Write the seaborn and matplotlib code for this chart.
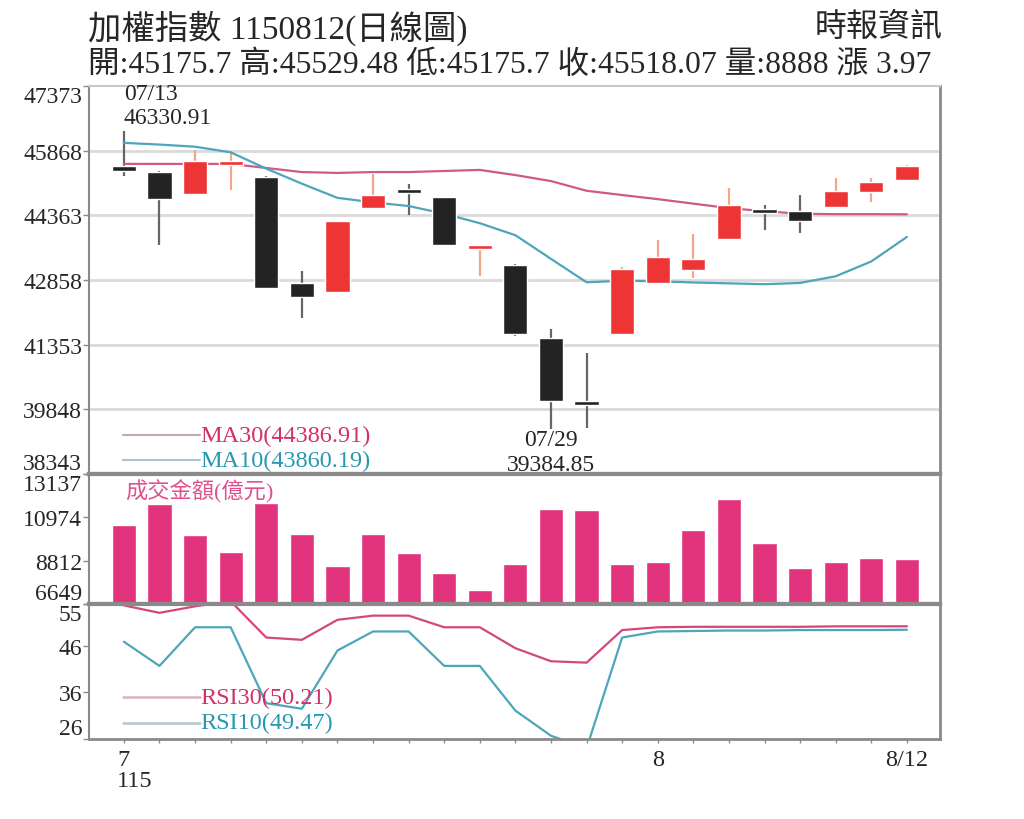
import numpy as np
import pandas as pd
import matplotlib
matplotlib.use("Agg")
import matplotlib.pyplot as plt
import seaborn as sns

# --- data ---
dates = ["07/13", "07/14", "07/15", "07/16", "07/17", "07/20", "07/21", "07/22",
         "07/23", "07/24", "07/27", "07/28", "07/29", "07/30", "07/31", "08/03",
         "08/04", "08/05", "08/06", "08/07", "08/10", "08/11", "08/12"]
opens = [45510, 45371, 44858, 45527, 45254, 42798, 42588, 44531, 44910, 44781,
         43582, 43208, 41498, 40052, 41608, 42781, 43092, 43815, 44484, 44468,
         44548, 44897, 45175.7]
highs = [46330.91, 45390, 45891, 45838, 45270, 43078, 44240, 45324, 45091, 44800,
         43650, 43220, 41715, 41164, 43170, 43792, 43925, 44998, 44608, 44842,
         45231, 45231, 45529.48]
lows = [45280, 43661, 44850, 44958, 42660, 41981, 42570, 44520, 44361, 43640,
        42961, 41561, 39384.85, 39420, 41600, 42770, 42898, 43800, 44025, 43948,
        44540, 44672, 45175.7]
closes = [45400, 44748, 45635, 45621, 42681, 42455, 44235, 44827, 44880, 43661,
          43638, 41608, 40035, 39960, 43115, 43388, 43358, 44608, 44420, 44235,
          44935, 45131, 45518.07]
ma30 = [45560, 45560, 45560, 45560, 45465, 45370, 45350, 45370, 45370, 45395,
        45420, 45300, 45160, 44935, 44835, 44740, 44635, 44530, 44460, 44400,
        44390, 44390, 44386.91]
ma10 = [46050, 46010, 45960, 45830, 45450, 45100, 44770, 44665, 44580, 44400,
        44180, 43900, 43350, 42805, 42840, 42830, 42800, 42780, 42760, 42790,
        42945, 43290, 43860.19]
volume = [10575, 11649, 10080, 9223, 11680, 10129, 8545, 10129, 9173, 8218,
          7357, 8644, 11401, 11317, 8644, 8728, 10361, 11896, 9669, 8431,
          8728, 8961, 8891]
rsi30 = [54.7, 53.1, 54.5, 55.6, 47.8, 47.3, 51.6, 52.5, 52.5, 50.0, 50.0, 45.5,
         42.7, 42.4, 49.4, 50.0, 50.1, 50.1, 50.1, 50.1, 50.2, 50.2, 50.21]
rsi10 = [46.9, 41.7, 50.0, 50.0, 33.7, 32.5, 45.0, 49.1, 49.1, 41.7, 41.7, 32.1,
         26.7, 24.0, 47.8, 49.1, 49.2, 49.3, 49.3, 49.4, 49.4, 49.4, 49.47]

price_ticks = [38343, 39848, 41353, 42858, 44363, 45868, 47373]
vol_ticks = [6649, 8812, 10974, 13137]
rsi_ticks = [26, 36, 46, 55]
month_labels = {0: "7", 15: "8", 22: "8/12"}
year_label = "115"

title = "加權指數 1150812(日線圖)"
source = "時報資訊"
quote = "開:45175.7 高:45529.48 低:45175.7 收:45518.07 量:8888 漲 3.97"
vol_title = "成交金額(億元)"
ma30_label = "MA30(44386.91)"
ma10_label = "MA10(43860.19)"
rsi30_label = "RSI30(50.21)"
rsi10_label = "RSI10(49.47)"

df = pd.DataFrame({"idx": np.arange(len(dates)), "ma30": ma30, "ma10": ma10,
                   "volume": volume, "rsi30": rsi30, "rsi10": rsi10})

sns.set_style("white")
plt.rcParams["font.family"] = ["Liberation Serif", "Noto Sans CJK TC", "DejaVu Sans"]

RED, BLACK = "#ee3535", "#232323"
RED_WICK, BLACK_WICK = "#f2a68a", "#666666"
PINK_LINE, TEAL_LINE = "#cf5a84", "#4ea5bc"
PINK_TXT, TEAL_TXT = "#d2306a", "#2898b2"
GRAY = "#8a8a8a"

fig = plt.figure(figsize=(10.24, 8.2), dpi=100)
W, H = 1024, 820
left, right = 89, 940


def panel(top, bottom):
    return fig.add_axes([left / W, 1 - bottom / H, (right - left) / W, (bottom - top) / H])


ax_p = panel(87, 475)
ax_v = panel(475, 605)
ax_r = panel(605, 740)
xlim = (-0.98, 22.93)
idx = df["idx"].to_numpy()

# --- price panel ---
o, h, l, c = map(np.asarray, (opens, highs, lows, closes))
up = c >= o
ax_p.vlines(idx, l, h, colors=np.where(up, RED_WICK, BLACK_WICK), lw=1.6, zorder=2)
ax_p.bar(idx, np.maximum(np.abs(c - o), 90), bottom=np.minimum(o, c), width=0.68,
         color=np.where(up, RED, BLACK), zorder=3)
sns.lineplot(data=df, x="idx", y="ma30", ax=ax_p, color=PINK_LINE, lw=1.6, zorder=2)
sns.lineplot(data=df, x="idx", y="ma10", ax=ax_p, color=TEAL_LINE, lw=1.6, zorder=2)
for t in price_ticks[1:-1]:
    ax_p.axhline(t, color="#dadada", lw=2, zorder=0)
ax_p.set_ylim(price_ticks[0], price_ticks[-1])

hi = int(np.argmax(h))
lo = int(np.argmin(l))
ax_p.annotate(f"{dates[hi]}\n{h[hi]:.2f}", xy=(hi, h[hi]), xytext=(0, 2),
              textcoords="offset points", ha="left", va="bottom", fontsize=17,
              linespacing=1.2)
ax_p.annotate(f"{dates[lo]}\n{l[lo]:.2f}", xy=(lo, l[lo]), xytext=(0, 0),
              textcoords="offset points", ha="center", va="top", fontsize=17,
              linespacing=1.25)

for y, col, tcol, lab in [(0.100, "#c9a4b2", PINK_TXT, ma30_label),
                          (0.036, "#a9c4cc", TEAL_TXT, ma10_label)]:
    ax_p.plot([0.04, 0.131], [y, y], transform=ax_p.transAxes, color=col, lw=1.5)
    ax_p.text(0.131, y, lab, transform=ax_p.transAxes, color=tcol, fontsize=17.5,
              va="center", ha="left")

# --- volume panel ---
sns.barplot(data=df, x="idx", y="volume", ax=ax_v, color="#e2337d", saturation=1,
            width=0.68, zorder=2)
ax_v.set_ylim(vol_ticks[0], vol_ticks[-1])
ax_v.text(0.042, 0.87, vol_title, transform=ax_v.transAxes, color="#e0508c",
          fontsize=16, va="center", ha="left")

# --- RSI panel ---
sns.lineplot(data=df, x="idx", y="rsi30", ax=ax_r, color="#d2487a", lw=1.6)
sns.lineplot(data=df, x="idx", y="rsi10", ax=ax_r, color=TEAL_LINE, lw=1.6)
ax_r.set_ylim(rsi_ticks[0], rsi_ticks[-1])
for y, col, tcol, lab in [(0.31, "#d8b4c2", PINK_TXT, rsi30_label),
                          (0.12, "#b4c8ce", TEAL_TXT, rsi10_label)]:
    ax_r.plot([0.04, 0.131], [y, y], transform=ax_r.transAxes, color=col, lw=1.8)
    ax_r.text(0.131, y, lab, transform=ax_r.transAxes, color=tcol, fontsize=17.5,
              va="center", ha="left")

# --- axes styling ---
for ax, ticks in [(ax_p, price_ticks), (ax_v, vol_ticks), (ax_r, rsi_ticks)]:
    ax.set_xlim(*xlim)
    ax.set_xlabel("")
    ax.set_ylabel("")
    ax.set_yticks(ticks)
    ax.set_yticklabels([str(t) for t in ticks])
    labs = ax.get_yticklabels()
    labs[0].set_va("bottom")
    labs[-1].set_va("top")
    ax.tick_params(axis="y", left=True, length=4, width=1, color=GRAY,
                   labelsize=17, pad=1)
    ax.grid(False)
    for s in ax.spines.values():
        s.set_color(GRAY)
        s.set_linewidth(1.5)
    ax.spines["right"].set_linewidth(2)

ax_p.spines["top"].set_color("#c8c8c8")
ax_p.spines["bottom"].set_linewidth(3)
ax_v.spines["top"].set_linewidth(3)
ax_v.spines["bottom"].set_linewidth(3)
ax_r.spines["top"].set_linewidth(3)
ax_r.spines["bottom"].set_linewidth(2)

for ax in (ax_p, ax_v):
    ax.set_xticks([])
ax_r.set_xticks(idx)
ax_r.set_xticklabels([month_labels.get(i, "") for i in idx])
ax_r.tick_params(axis="x", bottom=True, length=3, width=1, color=GRAY,
                 labelsize=17.5, pad=4)
ax_r.text(-0.2, -0.31, year_label, transform=ax_r.get_xaxis_transform(), ha="left",
          va="center", fontsize=17.5)

# --- header ---
fig.text(88 / W, 1 - 28 / H, title, fontsize=24, va="center", ha="left")
fig.text(943 / W, 1 - 28 / H, source, fontsize=23, va="center", ha="right")
fig.text(88 / W, 1 - 65 / H, quote, fontsize=22.8, va="center", ha="left")

fig.savefig("out.png", dpi=100, facecolor="white")
